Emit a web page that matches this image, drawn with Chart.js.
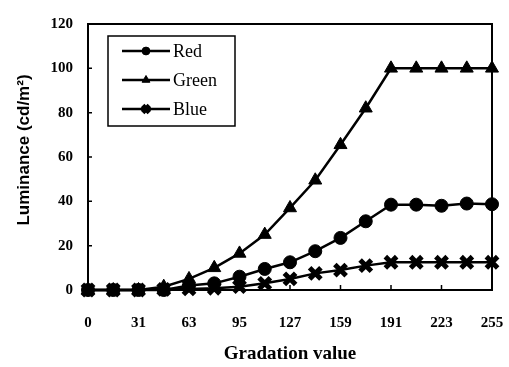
<!DOCTYPE html>
<html>
<head>
<meta charset="utf-8">
<script src="https://cdn.jsdelivr.net/npm/chart.js@4/dist/chart.umd.min.js"></script>
<style>
    html, body { margin: 0; padding: 0; background: #fff; }
    #wrap { width: 509px; height: 367px; position: relative; }
</style>
</head>
<body>
<div id="wrap"><canvas id="lumChart"></canvas></div>
<script>
// gradation steps (x) and luminance values
const gradations = ['0', '15', '31', '47', '63', '79', '95', '111', '127', '143', '159', '175', '191', '207', '223', '239', '255'];
const redValues = [0, 0, 0, 0, 2, 3, 6, 9.5, 12.5, 17.5, 23.5, 31, 38.5, 38.5, 38, 39, 38.7];
const greenValues = [0, 0, 0, 1.5, 5, 10, 16.5, 25, 37, 49.5, 65.5, 82, 100, 100, 100, 100, 100];
const blueValues = [0, 0, 0, 0.3, 0.5, 0.8, 1.5, 3, 5, 7.5, 9, 11, 12.5, 12.5, 12.5, 12.5, 12.5];
const yTicks = [0, 20, 40, 60, 80, 100, 120];

const serif = '"Liberation Serif", "Times New Roman", serif';
const sans = '"Liberation Sans", Arial, sans-serif';

// frame around plot + short inside tick marks + y title
const framePlugin = {
    id: 'frame',
    afterDraw: function (chart) {
        const ctx = chart.ctx;
        const a = chart.chartArea;
        const xs = chart.scales.x;
        const ys = chart.scales.y;
        ctx.save();
        ctx.strokeStyle = '#000';
        ctx.lineWidth = 2;
        ctx.strokeRect(a.left, a.top, a.right - a.left, a.bottom - a.top);
        ctx.lineWidth = 1.5;
        ctx.beginPath();
        yTicks.forEach(function (v) {
            const y = ys.getPixelForValue(v);
            ctx.moveTo(a.left, y);
            ctx.lineTo(a.left + 4, y);
        });
        gradations.forEach(function (g, i) {
            if (i % 2 !== 0) return;
            const x = xs.getPixelForValue(i);
            ctx.moveTo(x, a.bottom);
            ctx.lineTo(x, a.bottom - 5);
        });
        ctx.stroke();

        ctx.translate(24, a.top + 126);
        ctx.rotate(-Math.PI / 2);
        ctx.fillStyle = '#000';
        ctx.font = 'bold 17px ' + sans;
        ctx.textAlign = 'center';
        ctx.textBaseline = 'middle';
        ctx.fillText('Luminance (cd/m²)', 0, 0);
        ctx.restore();
    }
};

// boxed legend with line + marker samples
const boxLegend = {
    id: 'boxLegend',
    afterDraw: function (chart) {
        const ctx = chart.ctx;
        const a = chart.chartArea;
        const bx = a.left + 20, by = a.top + 12, bw = 127, bh = 90;
        ctx.save();
        ctx.fillStyle = '#fff';
        ctx.fillRect(bx, by, bw, bh);
        ctx.strokeStyle = '#000';
        ctx.lineWidth = 1.5;
        ctx.strokeRect(bx, by, bw, bh);
        chart.data.datasets.forEach(function (ds, i) {
            const y = by + 15 + i * 29;
            ctx.strokeStyle = '#000';
            ctx.fillStyle = '#000';
            ctx.lineWidth = 2.5;
            ctx.beginPath();
            ctx.moveTo(bx + 14, y);
            ctx.lineTo(bx + 62, y);
            ctx.stroke();
            ctx.lineWidth = ds.pointBorderWidth;
            Chart.helpers.drawPoint(ctx, {
                pointStyle: ds.pointStyle,
                radius: ds.pointRadius * 0.6,
                borderWidth: ds.pointBorderWidth * 0.8
            }, bx + 38, y);
            ctx.fillStyle = '#000';
            ctx.font = '18px ' + serif;
            ctx.textBaseline = 'middle';
            ctx.fillText(ds.label, bx + 65, y + 1);
        });
        ctx.restore();
    }
};

function series(label, values, style, radius, bw) {
    return {
        label: label,
        data: values,
        borderColor: '#000',
        backgroundColor: '#000',
        borderWidth: 2.5,
        pointStyle: style,
        pointRadius: radius,
        pointBorderWidth: bw,
        pointBackgroundColor: '#000',
        pointBorderColor: '#000',
        tension: 0
    };
}

const ctx = document.getElementById('lumChart');
new Chart(ctx, {
    type: 'line',
    data: {
        labels: gradations,
        datasets: [
            series('Red', redValues, 'circle', 6.5, 1),
            series('Green', greenValues, 'triangle', 7.5, 1),
            series('Blue', blueValues, 'crossRot', 8, 5)
        ]
    },
    options: {
        responsive: true,
        maintainAspectRatio: false,
        animation: false,
        clip: false,
        layout: { padding: { top: 19, right: 0, left: 0, bottom: 0 } },
        plugins: {
            legend: { display: false },
            tooltip: { enabled: false }
        },
        scales: {
            x: {
                type: 'category',
                offset: false,
                grid: { display: false, drawTicks: false },
                border: { display: false },
                ticks: {
                    autoSkip: false,
                    maxRotation: 0,
                    padding: 24,
                    color: '#000',
                    font: { family: serif, size: 15, weight: 'bold' },
                    callback: function (v, i) { return i % 2 === 0 ? gradations[i] : ''; }
                },
                title: {
                    display: true,
                    text: 'Gradation value',
                    color: '#000',
                    font: { family: serif, size: 19, weight: 'bold' },
                    padding: { top: 0, bottom: 2 }
                },
                afterFit: function (s) {
                    s.height = 77;
                    s.paddingLeft = 0;
                    s.paddingRight = 17;
                }
            },
            y: {
                min: 0,
                max: 120,
                grid: { display: false, drawTicks: false },
                border: { display: false },
                afterBuildTicks: function (s) { s.ticks = yTicks.map(function (v) { return { value: v }; }); },
                ticks: {
                    padding: 15,
                    color: '#000',
                    font: { family: serif, size: 15, weight: 'bold' }
                },
                afterFit: function (s) { s.width = 88; }
            }
        }
    },
    plugins: [framePlugin, boxLegend]
});
</script>
</body>
</html>
